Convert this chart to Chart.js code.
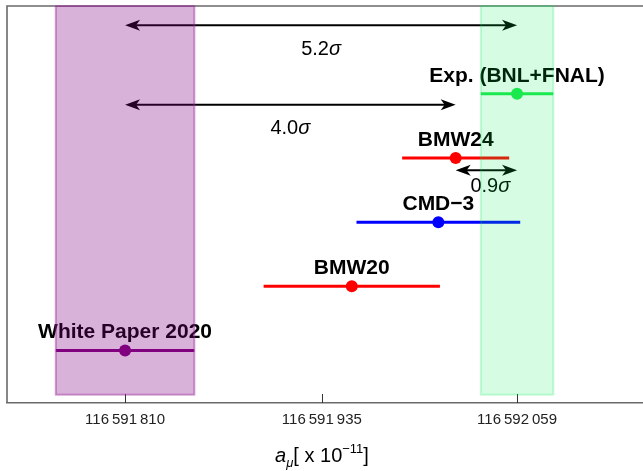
<!DOCTYPE html>
<html>
<head>
<meta charset="utf-8">
<script src="https://cdn.jsdelivr.net/npm/chart.js@4/dist/chart.umd.min.js"></script>
<style>
  html, body { margin: 0; padding: 0; background: #ffffff; }
  #wrap { width: 643px; height: 471px; }
</style>
</head>
<body>
<div id="wrap"><canvas id="chart" width="643" height="471"></canvas></div>
<script>
// Muon g-2 determinations, in units of 1e-11
const estimates   = ['White Paper 2020', 'BMW20', 'CMD\u22123', 'BMW24', 'Exp. (BNL+FNAL)'];
const central     = [116591810, 116591954, 116592009, 116592020, 116592059];
const uncertainty = [44, 56, 52, 34, 23];
const rowIndex    = [1, 2, 3, 4, 5];

// x-axis tick positions
const tickValues = [116591810, 116591935, 116592059];

// tension arrows between determinations
const tensionFrom  = [116591810, 116591810, 116592020];
const tensionTo    = [116592059, 116592020, 116592059];
const tensionRow   = [6.07, 4.83, 3.81];
const tensionSigma = ['5.2', '4.0', '0.9'];

// shaded bands: White Paper (purple) and experiment (green)
const bandIndex = [0, 4];

const style = {
  colors: ['#800080', '#ff0000', '#0000ff', '#ff0000', '#1ee84e'],
  bandFill: ['rgba(128,0,128,0.30)', 'rgba(0,240,80,0.16)'],
  bandEdge: ['rgba(150,40,150,0.45)', 'rgba(0,230,80,0.22)'],
  labelFont: 'bold 21px "Liberation Sans", Arial, sans-serif',
  sigmaFont: '20px "Liberation Sans", Arial, sans-serif',
  sigmaItalic: 'italic 20px "Liberation Sans", Arial, sans-serif',
  frame: '#6a6a6a'
};

// helper: thin-space grouped integer
function grouped(v) {
  const s = String(Math.round(v));
  return s.replace(/\B(?=(\d{3})+(?!\d))/g, '\u2009');
}

function drawArrowHead(ctx, x, y, dir) {
  // dir = +1 pointing right, -1 pointing left
  const L = 15, W = 5.5, notch = 4;
  ctx.beginPath();
  ctx.moveTo(x, y);
  ctx.lineTo(x - dir * L, y - W);
  ctx.lineTo(x - dir * (L - notch), y);
  ctx.lineTo(x - dir * L, y + W);
  ctx.closePath();
  ctx.fill();
}

const overlay = {
  id: 'overlay',
  beforeDatasetsDraw(chart) {
    const { ctx, chartArea: a, scales: { x } } = chart;
    ctx.save();
    ctx.strokeStyle = style.frame;
    ctx.lineWidth = 1.6;
    // frame: top and left edges
    ctx.beginPath();
    ctx.moveTo(a.left, a.bottom);
    ctx.lineTo(a.left, a.top);
    ctx.lineTo(chart.width, a.top);
    ctx.stroke();
    // inward tick marks
    ctx.lineWidth = 1;
    ctx.strokeStyle = '#333';
    tickValues.forEach(v => {
      const px = Math.round(x.getPixelForValue(v)) + 0.5;
      ctx.beginPath();
      ctx.moveTo(px, a.bottom);
      ctx.lineTo(px, a.bottom - 9);
      ctx.stroke();
    });
    ctx.restore();
  },
  afterDatasetsDraw(chart) {
    const { ctx, chartArea: a, scales: { x, y } } = chart;
    ctx.save();
    // labels above each estimate
    ctx.font = style.labelFont;
    ctx.fillStyle = '#000';
    ctx.textAlign = 'center';
    ctx.textBaseline = 'middle';
    estimates.forEach((name, i) => {
      ctx.fillText(name, x.getPixelForValue(central[i]), y.getPixelForValue(rowIndex[i]) - 18);
    });

    // tension arrows
    ctx.strokeStyle = '#000';
    ctx.fillStyle = '#000';
    ctx.lineWidth = 2;
    tensionFrom.forEach((from, i) => {
      const x0 = x.getPixelForValue(from);
      const x1 = x.getPixelForValue(tensionTo[i]);
      const py = y.getPixelForValue(tensionRow[i]);
      ctx.beginPath();
      ctx.moveTo(x0 + 6, py);
      ctx.lineTo(x1 - 6, py);
      ctx.stroke();
      drawArrowHead(ctx, x0, py, -1);
      drawArrowHead(ctx, x1, py, 1);
      // sigma label
      const num = tensionSigma[i];
      ctx.font = style.sigmaFont;
      const wNum = ctx.measureText(num).width;
      ctx.font = style.sigmaItalic;
      const wSig = ctx.measureText('\u03c3').width;
      const cx = (x0 + x1) / 2 + (i === 2 ? 4 : 0);
      const ly = py + (i === 2 ? 16 : 24);
      ctx.textAlign = 'left';
      ctx.textBaseline = 'middle';
      ctx.font = style.sigmaFont;
      ctx.fillText(num, cx - (wNum + wSig) / 2, ly);
      ctx.font = style.sigmaItalic;
      ctx.fillText('\u03c3', cx - (wNum + wSig) / 2 + wNum, ly);
    });

    // translucent bands drawn on top
    const bandBottom = y.getPixelForValue(0.31);
    bandIndex.forEach((k, j) => {
      const l = x.getPixelForValue(central[k] - uncertainty[k]);
      const r = x.getPixelForValue(central[k] + uncertainty[k]);
      ctx.fillStyle = style.bandFill[j];
      ctx.fillRect(l, a.top, r - l, bandBottom - a.top);
      ctx.strokeStyle = style.bandEdge[j];
      ctx.lineWidth = 2;
      ctx.strokeRect(l, a.top, r - l, bandBottom - a.top);
    });
    ctx.restore();
  },
  afterDraw(chart) {
    const { ctx } = chart;
    // axis title: a_mu [ x 10^-11 ]
    const parts = [
      { t: 'a', f: 'italic 20px "Liberation Sans", Arial, sans-serif', dy: 0 },
      { t: '\u03bc', f: 'italic 13px "Liberation Sans", Arial, sans-serif', dy: 5 },
      { t: '[ x 10', f: '20px "Liberation Sans", Arial, sans-serif', dy: 0 },
      { t: '\u221211', f: '13px "Liberation Sans", Arial, sans-serif', dy: -9 },
      { t: ']', f: '20px "Liberation Sans", Arial, sans-serif', dy: 0 }
    ];
    ctx.save();
    ctx.fillStyle = '#000';
    ctx.textBaseline = 'alphabetic';
    ctx.textAlign = 'left';
    let total = 0;
    parts.forEach(p => { ctx.font = p.f; p.w = ctx.measureText(p.t).width; total += p.w; });
    let cx = 322 - total / 2;
    const base = 462;
    parts.forEach(p => { ctx.font = p.f; ctx.fillText(p.t, cx, base + p.dy); cx += p.w; });
    ctx.restore();
  }
};

const errorBarSets = estimates.map((name, i) => ({
  type: 'line',
  label: name,
  data: [
    { x: central[i] - uncertainty[i], y: rowIndex[i] },
    { x: central[i] + uncertainty[i], y: rowIndex[i] }
  ],
  borderColor: style.colors[i],
  borderWidth: 3,
  pointRadius: 0,
  fill: false,
  order: 2
}));

const pointSet = {
  type: 'scatter',
  label: 'central',
  data: central.map((v, i) => ({ x: v, y: rowIndex[i] })),
  pointRadius: 6,
  pointBackgroundColor: style.colors,
  pointBorderWidth: 0,
  order: 1
};

new Chart(document.getElementById('chart'), {
  type: 'scatter',
  data: { datasets: [...errorBarSets, pointSet] },
  options: {
    responsive: false,
    animation: false,
    events: [],
    layout: { autoPadding: false, padding: { left: 7, top: 6, right: 0, bottom: 0 } },
    plugins: { legend: { display: false }, tooltip: { enabled: false } },
    scales: {
      x: {
        type: 'linear',
        min: 116591735,
        max: 116592139,
        afterBuildTicks(scale) { scale.ticks = tickValues.map(v => ({ value: v })); },
        afterFit(scale) {
          scale.height = 68;
          scale.paddingLeft = 0;
          scale.paddingRight = 0;
        },
        border: { display: true, color: style.frame, width: 1.6 },
        grid: { display: false, drawTicks: false },
        ticks: {
          color: '#222',
          padding: 8,
          maxRotation: 0,
          autoSkip: false,
          font: { family: '"Liberation Sans", Arial, sans-serif', size: 15 },
          callback: v => grouped(v)
        }
      },
      y: {
        type: 'linear',
        display: false,
        min: 0.18,
        max: 6.37
      }
    }
  },
  plugins: [overlay]
});
</script>
</body>
</html>
